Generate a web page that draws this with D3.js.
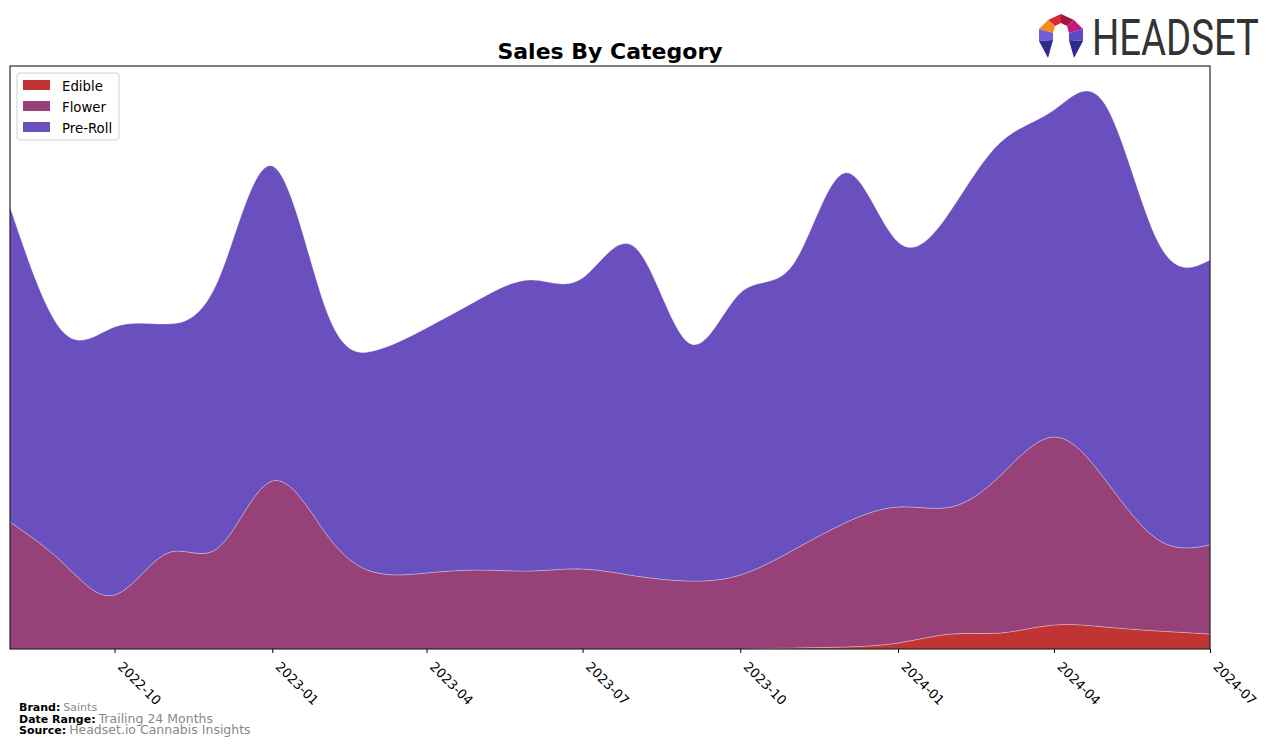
<!DOCTYPE html>
<html>
<head>
<meta charset="utf-8">
<script src="https://cdn.jsdelivr.net/npm/d3@7"></script>
<style>
  html, body { margin: 0; padding: 0; background: #fff; }
  svg { display: block; font-family: "DejaVu Sans", sans-serif; }
</style>
</head>
<body>
<svg id="chart" width="1276" height="746"></svg>
<script>
// ---- data (unitless sales estimates) ----
const months = ["2022-08","2022-09","2022-10","2022-11","2022-12","2023-01","2023-02","2023-03",
  "2023-04","2023-05","2023-06","2023-07","2023-08","2023-09","2023-10","2023-11","2023-12",
  "2024-01","2024-02","2024-03","2024-04","2024-05","2024-06","2024-07"];
const categories = ["Edible", "Flower", "Pre-Roll"];
const edible  = [0,0,0,0,0,0,0,0,0,0,0,0,0,0,0,1,2,6,15,16,24,22,18,15];
const flower  = [127,86,54,96,102,168,116,77,76,79,78,80,73,68,74,98,124,136,127,158,188,147,91,89];
const preroll = [315,231,268,229,269,315,225,221,245,270,291,291,328,238,282,286,350,265,297,333,327,375,297,285];
const tickLabels = ["2022-10","2023-01","2023-04","2023-07","2023-10","2024-01","2024-04","2024-07"];
const colors = ["#c03434", "#964177", "#6a4fbe"];

const parse = d3.timeParse("%Y-%m");
const rows = months.map((m, i) => ({ date: parse(m), "Edible": edible[i], "Flower": flower[i], "Pre-Roll": preroll[i] }));

const svg = d3.select("#chart");
const L = 10, R = 1210, T = 66, B = 649;

const x = d3.scaleTime().domain([parse(months[0]), parse(months[months.length - 1])]).range([L, R]);
const y = d3.scaleLinear().domain([0, 583]).range([B, T]);

svg.append("defs").append("clipPath").attr("id", "plotclip")
  .append("rect").attr("x", L).attr("y", T).attr("width", R - L).attr("height", B - T);

const stack = d3.stack().keys(categories);
const series = stack(rows);

const area = d3.area()
  .x(d => x(d.data.date))
  .y0(d => y(d[0]))
  .y1(d => y(d[1]))
  .curve(d3.curveNatural);

const g = svg.append("g").attr("clip-path", "url(#plotclip)");
g.selectAll("path.layer").data(series).join("path")
  .attr("class", "layer")
  .attr("d", area)
  .attr("fill", (d, i) => colors[i])
  .attr("stroke", "#ffffff")
  .attr("stroke-opacity", 0.35)
  .attr("stroke-width", 0.8);

// frame
svg.append("rect").attr("x", L).attr("y", T).attr("width", R - L).attr("height", B - T)
  .attr("fill", "none").attr("stroke", "#000").attr("stroke-width", 1);

// x axis
const xAxis = d3.axisBottom(x)
  .tickValues(tickLabels.map(parse))
  .tickFormat(d3.timeFormat("%Y-%m"))
  .tickSize(4).tickSizeOuter(0);
const ax = svg.append("g").attr("transform", `translate(0,${B})`).call(xAxis);
ax.select(".domain").remove();
ax.selectAll(".tick line").attr("stroke", "#000");
ax.selectAll(".tick text")
  .attr("font-size", 13)
  .attr("fill", "#000")
  .attr("font-family", "DejaVu Sans, sans-serif")
  .attr("text-anchor", "start")
  .attr("x", 0).attr("y", 0).attr("dy", 0)
  .attr("transform", "translate(2,18.5) rotate(45)");

// title
svg.append("text").attr("x", (L + R) / 2).attr("y", 59)
  .attr("text-anchor", "middle").attr("font-size", 22).attr("font-weight", "bold")
  .attr("fill", "#000").text("Sales By Category");

// legend
const lg = svg.append("g");
lg.append("rect").attr("x", 17).attr("y", 73).attr("width", 102).attr("height", 67)
  .attr("rx", 3).attr("fill", "#fff").attr("fill-opacity", 0.8).attr("stroke", "#d0d0d0");
categories.forEach((c, i) => {
  lg.append("rect").attr("x", 23).attr("y", 80 + i * 21).attr("width", 27).attr("height", 10)
    .attr("fill", colors[i]);
  lg.append("text").attr("x", 62).attr("y", 90.5 + i * 21).attr("font-size", 13.3)
    .attr("fill", "#000").text(c);
});

// footer
const foot = [["Brand:", "Saints", 11], ["Date Range:", "Trailing 24 Months", 12.5], ["Source:", "Headset.io Cannabis Insights", 12.5]];
foot.forEach((f, i) => {
  const t = svg.append("text").attr("x", 19).attr("y", 711 + i * 11.5).attr("font-size", 11);
  t.append("tspan").attr("font-weight", "bold").attr("fill", "#000").text(f[0]);
  t.append("tspan").attr("dx", 3).attr("fill", "#888").attr("font-size", f[2]).text(f[1]);
});

// logo
const logo = svg.append("g");
const lt = logo.append("text").attr("x", 0).attr("y", 0).attr("font-family", "Roboto, sans-serif")
  .attr("font-size", 50).attr("fill", "#333").text("HEADSET");
const natW = lt.node().getComputedTextLength() || 217;
lt.attr("transform", `translate(1092,55) scale(${167 / natW},1)`);
const cx = 1061;
const poly = (pts, fill) => logo.append("path").attr("d", "M" + pts.map(p => p.join(",")).join("L") + "Z").attr("fill", fill);
// top
poly([[cx-13,20],[cx,14],[cx,23],[cx-6,26]], "#d42a3c");
poly([[cx,14],[cx+13,20],[cx+6,26],[cx,23]], "#a5163c");
// left
poly([[cx-13,20],[cx-6,26],[cx-8,33],[cx-22,29]], "#f58a1f");
poly([[cx-22,29],[cx-8,33],[cx-8,40],[cx-22,41]], "#7060d8");
// right
poly([[cx+13,20],[cx+6,26],[cx+8,33],[cx+22,29]], "#c31782");
poly([[cx+22,29],[cx+8,33],[cx+8,40],[cx+22,41]], "#5c48c8");
// legs
poly([[cx-22,41],[cx-8,40],[cx-13,58]], "#2c2b8e");
poly([[cx+22,41],[cx+8,40],[cx+13,58]], "#2c2b8e");
</script>
</body>
</html>
